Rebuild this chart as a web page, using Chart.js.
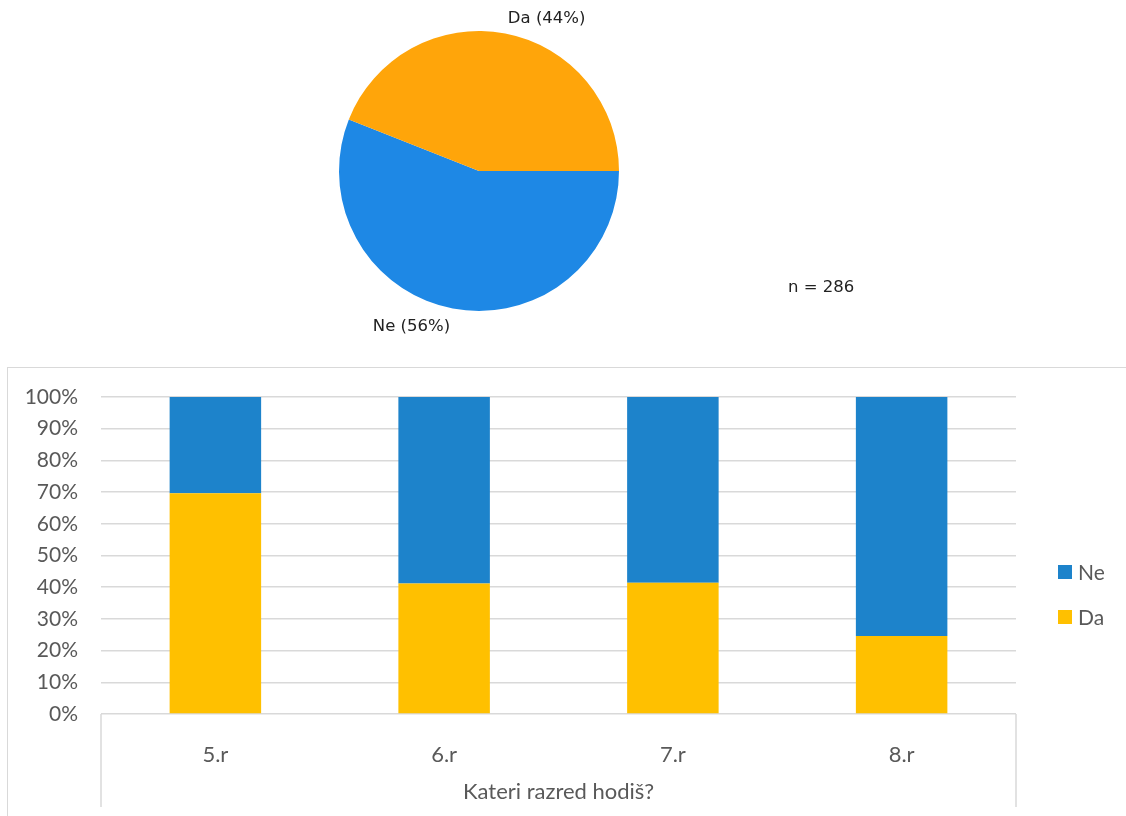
<!DOCTYPE html>
<html>
<head>
<meta charset="utf-8">
<title>Kateri razred hodiš?</title>
<script src="https://cdn.jsdelivr.net/npm/chart.js@4.4.0/dist/chart.umd.min.js"></script>
<style>
    body { margin: 0; background: #fff; }
    #pie-box { position: absolute; left: 0; top: 0; width: 1126px; height: 345px; }
    #bar-box {
        position: absolute; left: 7px; top: 367px; width: 1119px; height: 449px;
        box-sizing: border-box; border-top: 1px solid #d9d9d9; border-left: 1px solid #d9d9d9;
    }
</style>
</head>
<body>
<div id="pie-box"><canvas id="pie"></canvas></div>
<div id="bar-box"><canvas id="bar"></canvas></div>
<script>
// pie: all answers
const pieLabels = ['Ne', 'Da'];
const pieValues = [56, 44];
const pieColors = ['#1e88e5', '#ffa50a'];
const sampleSize = 286;

// stacked bars by class
const classes = ['5.r', '6.r', '7.r', '8.r'];
const daValues = [69.6, 41.2, 41.4, 24.6];
const neValues = [30.4, 58.8, 58.6, 75.4];
const yTicks = [0, 10, 20, 30, 40, 50, 60, 70, 80, 90, 100];

Chart.defaults.animation = false;

const pieLabelPlugin = {
    id: 'pieLabels',
    afterDraw(chart) {
        const ctx = chart.ctx;
        const meta = chart.getDatasetMeta(0);
        ctx.save();
        ctx.font = '16.5px "DejaVu Sans"';
        ctx.fillStyle = '#222';
        ctx.textBaseline = 'middle';
        meta.data.forEach((arc, i) => {
            const p = arc.getProps(['x', 'y', 'startAngle', 'endAngle', 'outerRadius'], true);
            const mid = (p.startAngle + p.endAngle) / 2;
            const r = p.outerRadius * 1.1;
            const tx = p.x + Math.cos(mid) * r;
            const ty = p.y + Math.sin(mid) * r;
            ctx.textAlign = Math.cos(mid) >= 0 ? 'left' : 'right';
            // matplotlib-like label nudge away from the pie
            ctx.fillText(pieLabels[i] + ' (' + pieValues[i] + '%)', tx, ty + (Math.sin(mid) > 0 ? 4 : -1));
        });
        ctx.textAlign = 'left';
        ctx.fillText('n = ' + sampleSize, 788, 288);
        ctx.restore();
    }
};

new Chart(document.getElementById('pie'), {
    type: 'pie',
    data: {
        labels: pieLabels,
        datasets: [{
            data: pieValues,
            backgroundColor: pieColors,
            borderWidth: 0
        }]
    },
    options: {
        responsive: true,
        maintainAspectRatio: false,
        rotation: 90,
        layout: { padding: { left: 339, right: 507, top: 31, bottom: 34 } },
        plugins: { legend: { display: false }, tooltip: { enabled: false } }
    },
    plugins: [pieLabelPlugin]
});

const barExtras = {
    id: 'barExtras',
    afterDraw(chart) {
        const ctx = chart.ctx;
        const area = chart.chartArea;
        ctx.save();
        // category box edges
        ctx.strokeStyle = '#d9d9d9';
        ctx.lineWidth = 1.5;
        ctx.beginPath();
        ctx.moveTo(area.left, area.bottom);
        ctx.lineTo(area.left, 439);
        ctx.moveTo(area.right, area.bottom);
        ctx.lineTo(area.right, 439);
        ctx.stroke();
        // legend, top series first
        ctx.font = '21px Lato';
        ctx.textBaseline = 'middle';
        ctx.textAlign = 'left';
        const sets = chart.data.datasets.slice().reverse();
        sets.forEach((ds, i) => {
            const cy = 204 + i * 45;
            ctx.fillStyle = ds.backgroundColor;
            ctx.fillRect(1050, cy - 7, 14, 14);
            ctx.fillStyle = '#595959';
            ctx.fillText(ds.label, 1070, cy + 1);
        });
        ctx.restore();
    }
};

new Chart(document.getElementById('bar'), {
    type: 'bar',
    data: {
        labels: classes,
        datasets: [
            { label: 'Da', data: daValues, backgroundColor: '#ffc000' },
            { label: 'Ne', data: neValues, backgroundColor: '#1d83cb' }
        ]
    },
    options: {
        responsive: true,
        maintainAspectRatio: false,
        barPercentage: 0.4,
        categoryPercentage: 1,
        layout: { padding: { left: 0, right: 110, top: 29, bottom: 0 } },
        scales: {
            x: {
                stacked: true,
                grid: { display: false },
                border: { display: false },
                ticks: { color: '#595959', font: { family: 'Lato', size: 22 }, padding: 20 },
                title: {
                    display: true,
                    text: 'Kateri razred hodiš?',
                    color: '#595959',
                    font: { family: 'Lato', size: 22 },
                    padding: { top: 0, bottom: 11 }
                },
                afterFit: s => { s.height = 102; }
            },
            y: {
                stacked: true,
                min: 0,
                max: 100,
                afterBuildTicks: s => { s.ticks = yTicks.map(v => ({ value: v })); },
                grid: { color: '#d9d9d9', lineWidth: 1.5, drawTicks: false },
                border: { display: false },
                ticks: {
                    color: '#595959',
                    font: { family: 'Lato', size: 21 },
                    padding: 23,
                    callback: v => v + '%'
                },
                afterFit: s => {
                    s.width = 93;
                    s.paddingTop = 0;
                    s.paddingBottom = 0;
                }
            }
        },
        plugins: { legend: { display: false }, tooltip: { enabled: false } }
    },
    plugins: [barExtras]
});
</script>
</body>
</html>
